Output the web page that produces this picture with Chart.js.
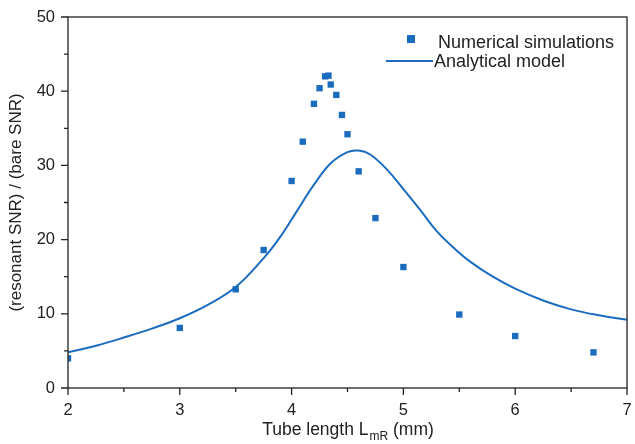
<!DOCTYPE html>
<html>
<head>
<meta charset="utf-8">
<script src="https://cdn.jsdelivr.net/npm/chart.js@4.4.1/dist/chart.umd.min.js"></script>
<style>
  html, body { margin: 0; padding: 0; background: #fff; }
  #wrap { width: 635px; height: 444px; }
</style>
</head>
<body>
<div id="wrap"><canvas id="c" width="635" height="444"></canvas></div>
<script>
// numerical simulation points (tube length mm, SNR ratio)
const simX = [2.0, 3.0, 3.5, 3.75, 4.0, 4.1, 4.2, 4.25, 4.3, 4.33, 4.35, 4.4, 4.45, 4.5, 4.6, 4.75, 5.0, 5.5, 6.0, 6.7];
const simY = [4.0, 8.1, 13.3, 18.6, 27.9, 33.2, 38.3, 40.4, 42.0, 42.1, 40.9, 39.5, 36.8, 34.2, 29.2, 22.9, 16.3, 9.9, 7.0, 4.8];

// analytical model curve
const modelX = [2.0, 2.25, 2.5, 2.75, 3.0, 3.25, 3.5, 3.75, 3.9, 4.05, 4.2, 4.35, 4.5, 4.6, 4.7, 4.85, 5.0, 5.15, 5.3, 5.45, 5.6, 5.8, 6.0, 6.25, 6.5, 6.75, 7.0];
const modelY = [4.8, 5.7, 6.8, 8.0, 9.4, 11.2, 13.6, 17.5, 20.4, 23.9, 27.4, 30.3, 31.8, 32.0, 31.5, 29.5, 26.8, 24.0, 21.1, 18.9, 17.0, 15.0, 13.4, 11.8, 10.6, 9.8, 9.2];

const seriesNames = ["Numerical simulations", "Analytical model"];
const xTicks = [2, 3, 4, 5, 6, 7];
const yTicks = [0, 10, 20, 30, 40, 50];

const BLUE = "#1b6cbf";
const FONT = "'Liberation Sans', Arial, sans-serif";

// frame, tick marks (major + minor), x title with subscript, legend
const decor = {
    id: "decor",
    afterDraw(chart) {
        const ctx = chart.ctx;
        const a = chart.chartArea;
        const xs = chart.scales.x;
        const ys = chart.scales.y;
        ctx.save();
        ctx.strokeStyle = "#222";
        ctx.lineWidth = 1.3;
        ctx.strokeRect(a.left, a.top, a.right - a.left, a.bottom - a.top);

        ctx.beginPath();
        for (let v = 2; v <= 7.001; v += 0.5) {
            const px = xs.getPixelForValue(v);
            const len = Number.isInteger(v) ? 7 : 4;
            ctx.moveTo(px, a.bottom);
            ctx.lineTo(px, a.bottom + len);
        }
        for (let v = 0; v <= 50.001; v += 5) {
            const py = ys.getPixelForValue(v);
            const len = v % 10 === 0 ? 7 : 4;
            ctx.moveTo(a.left, py);
            ctx.lineTo(a.left - len, py);
        }
        ctx.stroke();

        // x axis title
        ctx.fillStyle = "#222";
        ctx.textBaseline = "alphabetic";
        const big = "17.5px " + FONT;
        const small = "12px " + FONT;
        const p1 = "Tube length L", p2 = "mR", p3 = " (mm)";
        ctx.font = big;
        const w1 = ctx.measureText(p1).width, w3 = ctx.measureText(p3).width;
        ctx.font = small;
        const w2 = ctx.measureText(p2).width;
        let tx = (a.left + a.right) / 2 - (w1 + w2 + w3) / 2;
        const ty = 435;
        ctx.font = big;
        ctx.textAlign = "left";
        ctx.fillText(p1, tx, ty);
        tx += w1 + 1;
        ctx.font = small;
        ctx.fillText(p2, tx, ty + 5);
        tx += w2;
        ctx.font = big;
        ctx.fillText(p3, tx, ty);

        // legend
        ctx.fillStyle = BLUE;
        ctx.fillRect(407, 35, 8, 8);
        ctx.strokeStyle = BLUE;
        ctx.lineWidth = 2;
        ctx.beginPath();
        ctx.moveTo(386, 61);
        ctx.lineTo(433, 61);
        ctx.stroke();
        ctx.font = "18px " + FONT;
        ctx.fillStyle = "#222";
        ctx.fillText(seriesNames[0], 438, 48);
        ctx.fillText(seriesNames[1], 434, 67);
        ctx.restore();
    }
};

new Chart(document.getElementById("c"), {
    type: "scatter",
    data: {
        datasets: [
            {
                label: seriesNames[0],
                data: simX.map((x, i) => ({ x: x, y: simY[i] })),
                pointStyle: "rect",
                pointRadius: 4.5,
                pointBackgroundColor: BLUE,
                pointBorderWidth: 0,
                showLine: false,
                order: 1,
            },
            {
                label: seriesNames[1],
                data: modelX.map((x, i) => ({ x: x, y: modelY[i] })),
                showLine: true,
                borderColor: BLUE,
                borderWidth: 2,
                pointRadius: 0,
                tension: 0.4,
                order: 2,
            },
        ],
    },
    options: {
        responsive: false,
        animation: false,
        devicePixelRatio: 1,
        layout: { padding: { top: 17, right: 8, left: 0, bottom: 0 } },
        plugins: { legend: { display: false }, tooltip: { enabled: false } },
        scales: {
            x: {
                type: "linear",
                min: 2,
                max: 7,
                afterBuildTicks: (s) => { s.ticks = xTicks.map((v) => ({ value: v })); },
                afterFit: (s) => { s.height = 56; s.paddingLeft = 0; s.paddingRight = 0; },
                grid: { display: false, drawTicks: false },
                border: { display: false },
                ticks: {
                    padding: 13,
                    color: "#222",
                    font: { family: FONT, size: 16.5 },
                    maxRotation: 0,
                },
            },
            y: {
                type: "linear",
                min: 0,
                max: 50,
                afterBuildTicks: (s) => { s.ticks = yTicks.map((v) => ({ value: v })); },
                afterFit: (s) => { s.width = 68; s.paddingTop = 0; s.paddingBottom = 0; },
                grid: { display: false, drawTicks: false },
                border: { display: false },
                title: {
                    display: true,
                    text: "(resonant SNR) / (bare SNR)",
                    color: "#222",
                    font: { family: FONT, size: 17 },
                    padding: { top: 6, bottom: 0 },
                },
                ticks: {
                    padding: 13,
                    color: "#222",
                    font: { family: FONT, size: 16.5 },
                },
            },
        },
    },
    plugins: [decor],
});
</script>
</body>
</html>
